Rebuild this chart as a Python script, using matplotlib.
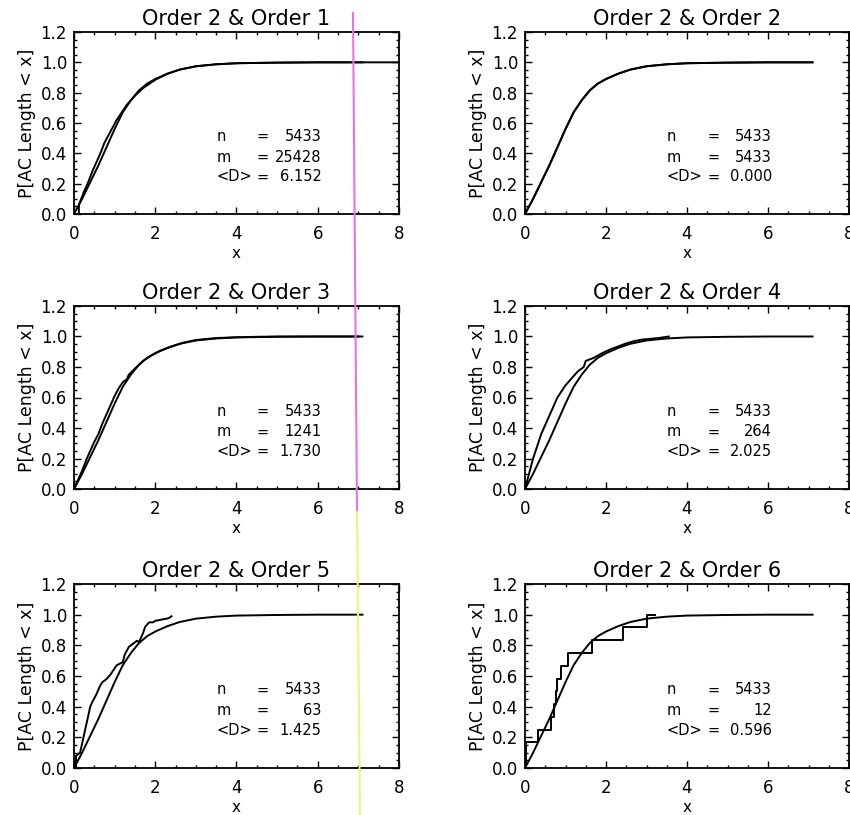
import matplotlib
matplotlib.use("Agg")
import matplotlib.pyplot as plt
from matplotlib.lines import Line2D
from matplotlib.ticker import MultipleLocator

# ---------------- data ----------------
# Order 2 cumulative distribution (n = 5433)
x_order2 = [0.0, 0.2, 0.4, 0.6, 0.8, 1.0, 1.2, 1.4, 1.6, 1.8, 2.0, 2.3, 2.6,
            3.0, 3.5, 4.0, 5.0, 6.0, 7.1]
y_order2 = [0.0, 0.10, 0.21, 0.32, 0.44, 0.56, 0.67, 0.75, 0.815, 0.86, 0.89,
            0.925, 0.952, 0.974, 0.987, 0.994, 0.998, 1.0, 1.0]

# Order 1 (m = 25428)
x_order1 = [0.0, 0.12, 0.12, 0.25, 0.35, 0.45, 0.55, 0.65, 0.75, 0.85, 0.95,
            1.05, 1.15, 1.3, 1.5, 1.7, 2.0, 2.3, 2.6, 3.0, 3.5, 4.0, 5.0, 6.0, 8.0]
y_order1 = [0.0, 0.0, 0.06, 0.15, 0.21, 0.28, 0.34, 0.40, 0.47, 0.52, 0.57,
            0.62, 0.66, 0.72, 0.78, 0.83, 0.885, 0.925, 0.952, 0.974, 0.987,
            0.994, 0.998, 1.0, 1.0]

# Order 3 (m = 1241)
x_order3 = [0.0, 0.05, 0.1, 0.2, 0.3, 0.4, 0.5, 0.6, 0.7, 0.8, 0.9, 1.0, 1.1,
            1.2, 1.3, 1.35, 1.5, 1.7, 1.9, 2.1, 2.4, 2.7, 3.0, 3.5, 4.0, 4.5,
            5.0, 6.0, 7.0]
y_order3 = [0.0, 0.03, 0.06, 0.12, 0.19, 0.25, 0.31, 0.36, 0.43, 0.49, 0.55,
            0.61, 0.66, 0.70, 0.72, 0.75, 0.79, 0.84, 0.875, 0.905, 0.935, 0.96,
            0.977, 0.99, 0.995, 0.998, 1.0, 1.0, 1.0]

# Order 4 (m = 264)
x_order4 = [0.0, 0.1, 0.2, 0.3, 0.4, 0.5, 0.6, 0.7, 0.8, 0.9, 1.0, 1.1, 1.2,
            1.3, 1.45, 1.5, 1.7, 1.9, 2.1, 2.3, 2.5, 2.7, 2.9, 3.1, 3.3, 3.55]
y_order4 = [0.0, 0.10, 0.20, 0.28, 0.36, 0.42, 0.48, 0.54, 0.60, 0.64, 0.68,
            0.71, 0.74, 0.77, 0.80, 0.84, 0.86, 0.89, 0.915, 0.935, 0.955, 0.97,
            0.98, 0.985, 0.99, 1.0]

# Order 5 (m = 63)
x_order5 = [0.0, 0.05, 0.05, 0.15, 0.2, 0.3, 0.4, 0.45, 0.55, 0.65, 0.7, 0.8,
            0.9, 1.0, 1.05, 1.2, 1.25, 1.35, 1.45, 1.55, 1.6, 1.7, 1.75, 1.85,
            1.95, 2.0, 2.1, 2.2, 2.3, 2.35, 2.4]
y_order5 = [0.0, 0.0, 0.08, 0.10, 0.16, 0.28, 0.40, 0.43, 0.48, 0.54, 0.56,
            0.58, 0.61, 0.65, 0.67, 0.69, 0.74, 0.79, 0.81, 0.83, 0.82, 0.88,
            0.92, 0.95, 0.95, 0.96, 0.965, 0.97, 0.975, 0.98, 0.99]

# Order 6 (m = 12) - empirical step function
x_order6 = [0.0, 0.03, 0.31, 0.65, 0.72, 0.76, 0.80, 0.88, 1.07, 1.65, 2.43,
            3.0, 3.2]
y_order6 = [0.0, 0.167, 0.25, 0.333, 0.417, 0.5, 0.583, 0.667, 0.75, 0.833,
            0.917, 1.0, 1.0]

titles = ["Order 2 & Order 1", "Order 2 & Order 2", "Order 2 & Order 3",
          "Order 2 & Order 4", "Order 2 & Order 5", "Order 2 & Order 6"]
n_vals = ["5433", "5433", "5433", "5433", "5433", "5433"]
m_vals = ["25428", "5433", "1241", "264", "63", "12"]
d_vals = ["6.152", "0.000", "1.730", "2.025", "1.425", "0.596"]

other_x = [x_order1, x_order2, x_order3, x_order4, x_order5, x_order6]
other_y = [y_order1, y_order2, y_order3, y_order4, y_order5, y_order6]
is_step = [False, False, False, False, False, True]

x_ticks = [0, 2, 4, 6, 8]
y_ticks = [0.0, 0.2, 0.4, 0.6, 0.8, 1.0, 1.2]

# ---------------- layout ----------------
W, H = 850, 815
fig = plt.figure(figsize=(W / 100, H / 100), dpi=100)
fig.patch.set_facecolor("white")
plt.rcParams["font.family"] = ["DejaVu Sans"]

col_px = [(74, 399), (525, 849)]
row_px = [(32, 214), (306, 489), (584, 768)]

for i in range(6):
    r, c = divmod(i, 2)
    x0, x1 = col_px[c]
    y0, y1 = row_px[r]
    ax = fig.add_axes([x0 / W, 1 - y1 / H, (x1 - x0) / W, (y1 - y0) / H])
    ax.plot(x_order2, y_order2, color="black", lw=1.4)
    if is_step[i]:
        ax.step(other_x[i], other_y[i], where="post", color="black", lw=1.4)
    else:
        ax.plot(other_x[i], other_y[i], color="black", lw=1.4)
    ax.set_xlim(0, 8)
    ax.set_ylim(0, 1.2)
    ax.set_xticks(x_ticks)
    ax.set_xticklabels([str(t) for t in x_ticks])
    ax.set_yticks(y_ticks)
    ax.set_yticklabels([f"{t:.1f}" for t in y_ticks])
    ax.xaxis.set_minor_locator(MultipleLocator(0.5))
    ax.yaxis.set_minor_locator(MultipleLocator(0.05))
    ax.tick_params(which="both", direction="in", top=True, right=True,
                   width=1.0, labelsize=12, colors="black")
    ax.tick_params(which="major", length=5)
    ax.tick_params(axis="x", which="major", pad=8)
    ax.tick_params(axis="y", which="major", pad=5)
    ax.tick_params(which="minor", length=2.5)
    for s in ax.spines.values():
        s.set_linewidth(1.3)
    ax.set_title(titles[i], fontsize=15, pad=5)
    ax.set_xlabel("x", fontsize=11, labelpad=2)
    ax.set_ylabel("P[AC Length < x]", fontsize=12.5, labelpad=3)
    rows = [("n", n_vals[i], 0.51), ("m", m_vals[i], 0.375),
            ("<D>", d_vals[i], 0.245)]
    for lab, val, yy in rows:
        ax.text(3.5, yy, lab, fontsize=10.5, ha="left", va="center")
        ax.text(4.65, yy, "=", fontsize=10.5, ha="center", va="center")
        ax.text(6.1, yy, val, fontsize=10.5, ha="right", va="center")

# scan artifact: thin coloured vertical line
fig.add_artist(Line2D([353 / W, 357 / W], [1 - 13 / H, 1 - 512 / H],
                      color="#e870e8", lw=1.5))
fig.add_artist(Line2D([357 / W, 360 / W], [1 - 512 / H, 0.0],
                      color="#f5f07a", lw=1.5))

fig.savefig("out.png", dpi=100, facecolor="white")
